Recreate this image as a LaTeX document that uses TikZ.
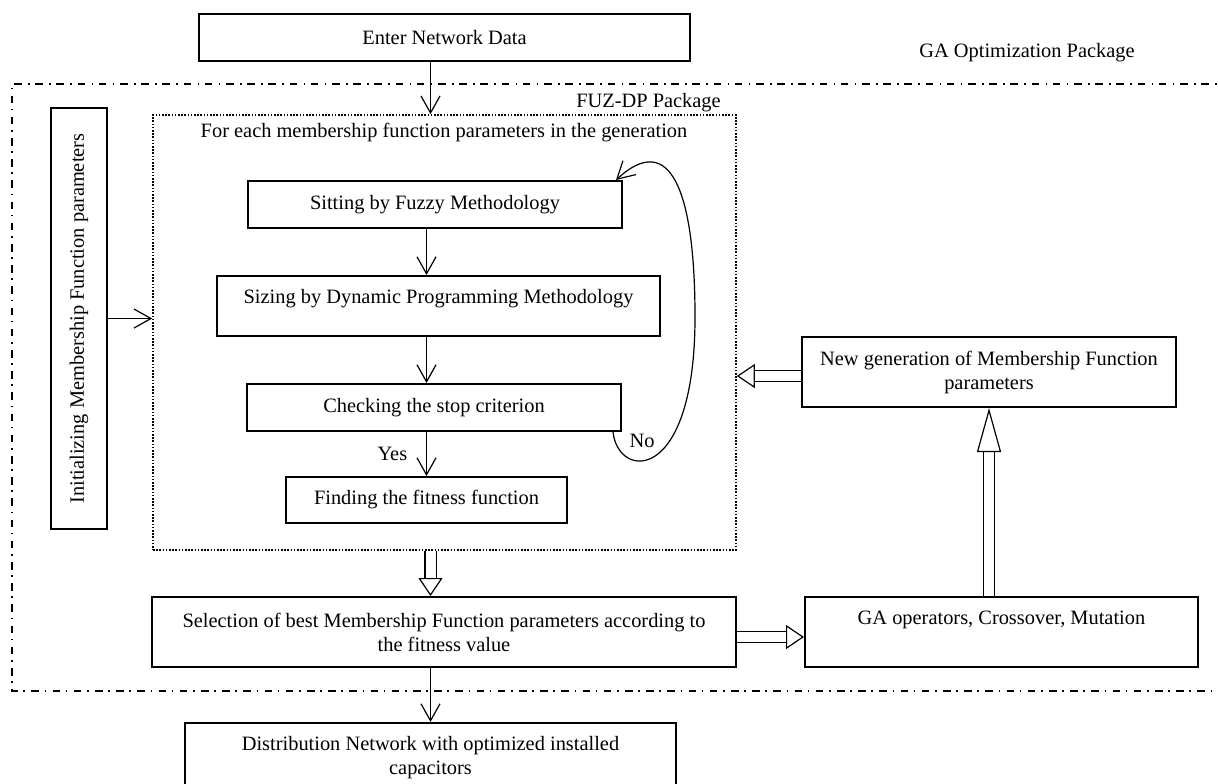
\documentclass[tikz,border=0pt]{standalone}
\usepackage{fontspec}
\setmainfont{Liberation Serif}
\usepackage{graphicx}
\usetikzlibrary{arrows.meta}

\tikzset{
  box/.style={draw, line width=1pt, align=center, inner sep=2pt},
  arr/.style={line width=0.6pt, -{Straight Barb[length=8.5pt,width=9.5pt]}},
  hollow/.style={double, double distance=5pt, line width=0.6pt, -{Triangle[open,length=9pt,width=12pt]}},
  gapack/.style={line width=0.8pt, dash pattern=on 3.8pt off 2.8pt on 0.8pt off 3.2pt},
  fuzpack/.style={line width=0.8pt, dash pattern=on 0.8pt off 0.8pt}
}

\begin{document}
\begin{tikzpicture}[x=0.5pt,y=-0.5pt,font=\fontsize{10.2}{12}\selectfont]
	\useasboundingbox (0,0) rectangle (1218,783);
	% packages
	\draw[gapack] (1230,84) -- (12,84) -- (12,691) -- (1230,691);
	\node at (1027,53) {GA Optimization Package};
	\node[draw, fuzpack, minimum width=291.5pt, minimum height=217.5pt] (fuz) at (444.5,332.5) {};
	\node[anchor=base east] (fuzlbl) at ([xshift=-4.5pt,yshift=3.5pt]fuz.north east) {FUZ-DP Package};
	\node (title) at (444,133) {For each membership function parameters in the generation};
	% boxes
	\node[box, minimum width=245.5pt, minimum height=23.5pt] (enter) at (444.5,37.5) {Enter Network Data};
	\node[box, minimum width=28pt, minimum height=210.5pt] (init) at (79,318.5) {\rotatebox{90}{Initializing Membership Function parameters}};
	\node[box, minimum width=187pt, minimum height=23.5pt] (sitting) at (435,204.5) {Sitting by Fuzzy Methodology};
	\node[box, minimum width=221.5pt, minimum height=30pt, text depth=10pt] (sizing) at (438.5,306) {Sizing by Dynamic Programming Methodology};
	\node[box, minimum width=187pt, minimum height=23.5pt] (checking) at (434,407.5) {Checking the stop criterion};
	\node[box, minimum width=140.5pt, minimum height=23pt] (finding) at (426.5,500) {Finding the fitness function};
	\node[box, minimum width=292pt, minimum height=35pt] (selection) at (444,632) {Selection of best Membership Function parameters according to\\the fitness value};
	\node[box, minimum width=196.5pt, minimum height=35pt, text depth=14pt] (gaop) at (1001.5,632) {GA operators, Crossover, Mutation};
	\node[box, minimum width=187pt, minimum height=35pt] (newgen) at (989,372) {New generation of Membership Function\\parameters};
	\node[box, minimum width=245.5pt, minimum height=35pt] (dist) at (430.5,758) {Distribution Network with optimized installed\\capacitors};
	% arrows
	\draw[arr] (dist.north |- enter.south) -- (dist.north |- fuz.north);
	\draw[arr] (init.east) -- (init.east -| fuz.west);
	\draw[arr] (finding.north |- sitting.south) -- (finding.north |- sizing.north);
	\draw[arr] (finding.north |- sizing.south) -- (finding.north |- checking.north);
	\draw[arr] (finding.north |- checking.south) -- node[left=6pt] (yes) {Yes} (finding.north);
	\draw[arr] ([xshift=-4.5pt]checking.south east) .. controls (618,480) and (695,485) .. (695,317)
		.. controls (695,190) and (670,130) .. ([xshift=-3.5pt]sitting.north east);
	\node (no) at (642,441) {No};
	\draw[arr] (dist.north |- selection.south) -- (dist.north);
	\draw[hollow] (dist.north |- fuz.south) -- (dist.north |- selection.north);
	\draw[hollow] ([yshift=-2.5pt]selection.east) -- ([yshift=-2.5pt]selection.east -| gaop.west);
	\draw[hollow, -{Triangle[open,length=22pt,width=12pt]}] (newgen.south |- gaop.north) -- (newgen.south);
	\draw[hollow] ([yshift=-2pt]newgen.west) -- ([yshift=-2pt]newgen.west -| fuz.east);
\end{tikzpicture}
\end{document}
